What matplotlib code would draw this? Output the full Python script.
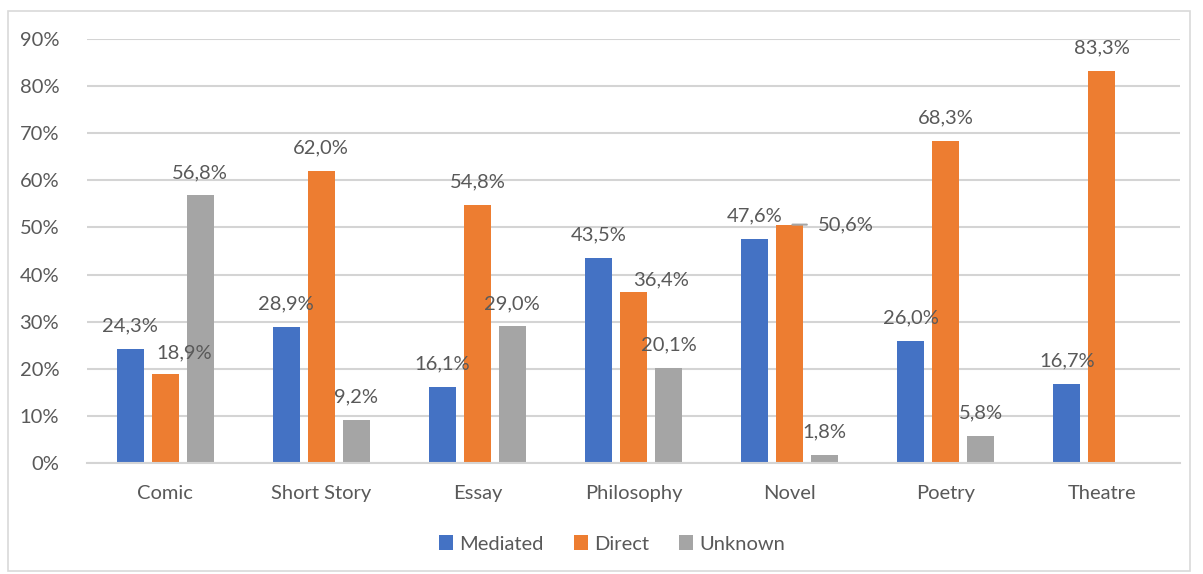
import numpy as np
import matplotlib
matplotlib.use("Agg")
import matplotlib.pyplot as plt
from matplotlib.patches import Rectangle

plt.rcParams['font.family'] = ['Lato', 'DejaVu Sans']

# data
categories = ['Comic', 'Short Story', 'Essay', 'Philosophy', 'Novel', 'Poetry', 'Theatre']
series_names = ['Mediated', 'Direct', 'Unknown']
mediated = [24.3, 28.9, 16.1, 43.5, 47.6, 26.0, 16.7]
direct = [18.9, 62.0, 54.8, 36.4, 50.6, 68.3, 83.3]
unknown = [56.8, 9.2, 29.0, 20.1, 1.8, 5.8, None]
colors = ['#4472C4', '#ED7D31', '#A5A5A5']

# label nudges in pixels (dx, dy above bar top) where the label was moved
nudges = {(0, 1): (19, 21), (3, 1): (28, 12), (4, 1): (56, 0)}

fig = plt.figure(figsize=(12.03, 5.74), dpi=100)
ax = fig.add_axes([87 / 1203, 111 / 574, 1093 / 1203, 424 / 574])

text_col = '#595959'
fs = 14.5
px = 72 / 100  # pixels -> points
x = np.arange(len(categories))
width = 0.173
step = 0.224

for j, vals in enumerate([mediated, direct, unknown]):
    for i, v in enumerate(vals):
        if v is None:
            continue
        xc = x[i] + (j - 1) * step
        ax.bar(xc, v / 100, width, color=colors[j], zorder=2,
               label=series_names[j] if i == 0 else None)
        dx, dy = nudges.get((i, j), (0, 23))
        ax.annotate(f"{v:.1f}%".replace('.', ','), (xc, v / 100),
                    xytext=(dx * px, dy * px), textcoords='offset points',
                    ha='center', va='center', fontsize=fs, color=text_col)
        if (i, j) == (4, 1):
            # leader line to the moved label
            ax.annotate('', (xc, v / 100), xytext=(20 * px, 0),
                        textcoords='offset points',
                        arrowprops=dict(arrowstyle='-', color='#A6A6A6', lw=1.5))

ax.set_ylim(0, 0.9)
ax.set_xlim(-0.5, len(categories) - 0.5)
ax.set_yticks(np.arange(0, 0.91, 0.1))
ax.set_yticklabels([f"{int(round(t * 100))}%" for t in np.arange(0, 0.91, 0.1)])
ax.set_xticks(x)
ax.set_xticklabels(categories)
ax.tick_params(axis='both', length=0, labelsize=fs, labelcolor=text_col)
ax.tick_params(axis='y', pad=20)
ax.tick_params(axis='x', pad=16)
ax.grid(axis='y', color='#D4D4D4', lw=1.5, zorder=0)
for s in ['top', 'right', 'left']:
    ax.spines[s].set_visible(False)
ax.spines['bottom'].set_color('#D4D4D4')
ax.spines['bottom'].set_linewidth(1.5)

leg = fig.legend(loc='center', bbox_to_anchor=(612 / 1203, 1 - 544 / 574), ncol=3,
                 frameon=False, fontsize=fs, handlelength=0.7, handleheight=0.7,
                 handletextpad=0.3, columnspacing=1.5)
for t in leg.get_texts():
    t.set_color(text_col)

fig.patches.append(Rectangle((8 / 1203, 3 / 574), 1182 / 1203, 560 / 574,
                             transform=fig.transFigure, fill=False,
                             edgecolor='#D9D9D9', lw=1.2))

fig.savefig('out.png', dpi=100, facecolor='white')
